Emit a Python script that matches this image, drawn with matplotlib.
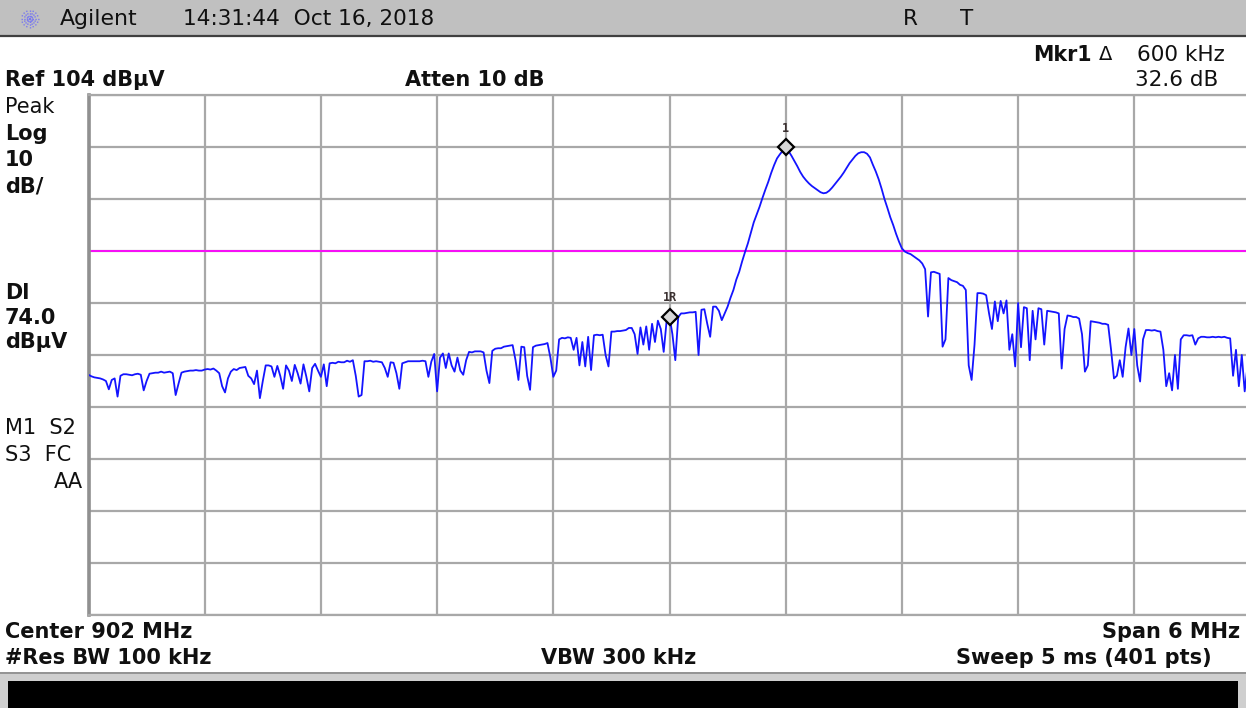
import numpy as np
import matplotlib
matplotlib.use('Agg')
import matplotlib.pyplot as plt
from matplotlib.patches import Rectangle

# ---------------- data ----------------
center_mhz = 902.0
span_mhz = 6.0
n_points = 401
ref_level = 104.0
db_per_div = 10.0
display_line = 74.0
atten_db = 10
rbw_khz = 100
vbw_khz = 300
sweep_ms = 5

trace_dbuv = [
    50.2, 49.9, 49.7, 49.6, 49.5, 49.3, 49.0, 47.4, 49.2, 49.5,
    46.0, 50.0, 50.3, 50.3, 50.2, 50.1, 50.3, 50.4, 50.2, 47.2,
    49.0, 50.4, 50.5, 50.6, 50.6, 50.8, 50.6, 50.7, 50.8, 50.5,
    46.3, 48.5, 50.6, 50.8, 50.9, 51.0, 51.0, 51.1, 51.0, 51.0,
    51.2, 51.3, 51.2, 51.4, 51.0, 50.5, 48.0, 46.8, 49.5, 50.8,
    51.3, 51.1, 51.5, 51.6, 51.7, 50.0, 49.5, 48.4, 51.0, 45.7,
    49.0, 52.0, 52.0, 51.8, 49.8, 51.9, 50.0, 47.5, 52.0, 51.0,
    49.0, 52.1, 50.5, 48.5, 52.2, 49.8, 47.0, 51.5, 52.3, 51.0,
    49.8, 52.2, 48.0, 52.4, 52.5, 52.4, 52.7, 52.6, 52.6, 52.9,
    52.7, 53.0, 50.0, 46.0, 46.3, 52.8, 52.8, 52.9, 52.7, 52.8,
    52.7, 52.6, 51.5, 49.8, 52.6, 52.5, 50.5, 47.5, 52.4, 52.6,
    52.8, 52.8, 52.8, 52.8, 52.8, 52.9, 52.8, 49.8, 52.7, 54.2,
    47.0, 53.5, 54.3, 51.5, 54.3, 52.0, 50.8, 53.5, 51.0, 50.2,
    53.0, 54.6, 54.5, 54.7, 54.7, 54.7, 54.5, 51.0, 48.6, 54.8,
    55.2, 55.3, 55.3, 55.6, 55.7, 55.8, 55.9, 53.0, 49.2, 55.6,
    55.5, 50.0, 47.3, 55.5, 55.8, 55.9, 56.0, 56.1, 56.3, 53.5,
    49.8, 51.0, 57.0, 57.3, 57.2, 57.4, 57.3, 55.0, 57.3, 52.0,
    56.5, 51.8, 57.5, 51.1, 57.8, 57.9, 57.8, 57.9, 54.0, 51.8,
    58.5, 58.5, 58.6, 58.6, 58.7, 58.8, 59.2, 59.2, 58.0, 54.2,
    59.3, 56.0, 59.5, 55.0, 60.0, 56.5, 60.6, 59.0, 54.6, 60.5,
    61.4, 58.0, 53.0, 61.3, 62.0, 62.0, 62.1, 62.2, 62.2, 62.3,
    54.0, 62.7, 62.8, 60.0, 57.5, 63.3, 63.3, 62.5, 60.7, 62.0,
    63.3, 65.0, 66.5, 68.5, 70.0, 72.0, 73.8, 75.5, 77.5, 79.5,
    81.0, 82.5, 84.2, 85.8, 87.3, 89.0, 90.5, 91.8, 92.6, 93.3,
    94.0, 93.2, 92.3, 91.3, 90.3, 89.2, 88.3, 87.6, 87.0, 86.5,
    86.1, 85.7, 85.3, 85.1, 85.2, 85.6, 86.2, 86.9, 87.6, 88.3,
    89.1, 90.0, 90.9, 91.6, 92.3, 92.8, 93.0, 93.0, 92.7, 92.0,
    90.6, 89.3, 87.8, 86.0, 84.0, 82.3, 80.5, 79.0, 77.3, 75.8,
    74.5, 73.9, 73.6, 73.4, 73.0, 72.6, 72.2, 71.6, 70.5, 61.4,
    69.9, 70.0, 69.8, 69.6, 55.6, 57.0, 68.8, 68.4, 68.2, 68.0,
    67.5, 67.3, 66.5, 52.0, 49.2, 56.0, 65.9, 65.9, 65.8, 65.5,
    62.0, 59.0, 64.3, 60.5, 64.4, 62.0, 64.5, 55.0, 58.0, 51.8,
    64.0, 55.5, 63.2, 63.0, 53.0, 62.5, 57.0, 63.0, 62.8, 56.0,
    62.5, 62.4, 62.3, 62.2, 62.0, 51.4, 59.0, 61.6, 61.5, 61.3,
    61.3, 61.0, 58.0, 50.8, 52.0, 60.5, 60.4, 60.3, 60.2, 60.0,
    60.0, 59.8, 55.0, 49.5, 50.0, 53.0, 49.8, 55.5, 59.1, 54.0,
    59.0, 52.0, 48.9, 57.0, 58.8, 58.8, 58.7, 58.8, 58.6, 58.5,
    55.0, 48.0, 50.5, 47.2, 54.0, 47.5, 57.0, 57.8, 57.8, 57.7,
    57.8, 56.0, 57.2, 57.5, 57.5, 57.4, 57.4, 57.5, 57.4, 57.5,
    57.4, 57.5, 57.3, 57.2, 50.0, 55.0, 48.0, 54.0, 47.0, 52.0,
    55.0,
]
marker_idx = 240       # Mkr1
ref_marker_idx = 200   # 1R

# ---------------- figure ----------------
W, H = 1246, 708
fig = plt.figure(figsize=(W / 100, H / 100), dpi=100)
fig.patch.set_facecolor('white')

bg = fig.add_axes([0, 0, 1, 1], zorder=0)
bg.set_xlim(0, W)
bg.set_ylim(H, 0)
bg.axis('off')

# header bar
bg.add_patch(Rectangle((0, 0), W, 35, facecolor='#c0c0c0', edgecolor='none'))
bg.plot([0, W], [35.5, 35.5], color='#404040', lw=1.6)
# Agilent star icon
for ang in np.arange(0, 180, 22.5):
    r = 9
    dx, dy = r * np.cos(np.radians(ang)), r * np.sin(np.radians(ang))
    bg.plot([30 - dx, 30 + dx], [19 - dy, 19 + dy], color='#7878f0', lw=1.0,
            linestyle=(0, (1, 1)))

# bottom bar
bg.add_patch(Rectangle((0, 672), W, 36, facecolor='#cfcfcf', edgecolor='none'))
bg.plot([0, W], [673, 673], color='#8a8a8a', lw=1.2)
bg.add_patch(Rectangle((8, 681), 1230, 27, facecolor='black', edgecolor='none'))

def t(x, y, s, bold=False, ha='left', size=15, color='#101010'):
    bg.text(x, y, s, ha=ha, va='center', fontsize=size,
            fontweight='bold' if bold else 'normal', color=color,
            family='DejaVu Sans')

t(60, 19, 'Agilent', size=15.8)
t(183, 19, '14:31:44  Oct 16, 2018', size=15.6)
t(910, 19, 'R', ha='center', size=15.5)
t(967, 19, 'T', ha='center', size=15.5)

mkr_delta_khz = (marker_idx - ref_marker_idx) * span_mhz / (n_points - 1) * 1000
mkr_delta_db = trace_dbuv[marker_idx] - trace_dbuv[ref_marker_idx]
t(1092, 55, 'Mkr1', bold=True, ha='right', size=14.8)
t(1106, 55, '\u0394', ha='center', size=14)
t(1225, 55, f'{mkr_delta_khz:.0f} kHz', ha='right', size=15.5)
t(1218, 80, f'{mkr_delta_db:.1f} dB', ha='right', size=15.5)

t(5, 80, f'Ref {ref_level:.0f} dB\u00b5V', bold=True, size=15)
t(405, 80, f'Atten {atten_db} dB', bold=True, size=15)

t(5, 107, 'Peak', size=15)
t(5, 134, 'Log', bold=True, size=15)
t(5, 160, f'{db_per_div:.0f}', bold=True, size=15)
t(5, 186, 'dB/', bold=True, size=15)
t(5, 293, 'Dl', bold=True, size=15)
t(5, 318, f'{display_line:.1f}', bold=True, size=15)
t(5, 342, 'dB\u00b5V', bold=True, size=15)
t(5, 428, 'M1  S2', size=15)
t(5, 455, 'S3  FC', size=15)
t(83, 482, 'AA', ha='right', size=15)

t(5, 632, f'Center {center_mhz:.0f} MHz', bold=True, size=15)
t(1240, 632, f'Span {span_mhz:.0f} MHz', bold=True, ha='right', size=15)
t(5, 658, f'#Res BW {rbw_khz} kHz', bold=True, size=15)
t(541, 658, f'VBW {vbw_khz} kHz', bold=True, size=15)
t(1212, 658, f'Sweep {sweep_ms} ms ({n_points} pts)', bold=True, ha='right', size=15)

# ---------------- plot area ----------------
ax = fig.add_axes([88.5 / W, (H - 615) / H, 1162 / W, 520 / H], zorder=1)
ax.set_facecolor('white')
f_start = center_mhz - span_mhz / 2
f_stop = center_mhz + span_mhz / 2
y_bottom = ref_level - 10 * db_per_div
freqs = np.linspace(f_start, f_stop, n_points)
trace = np.array(trace_dbuv)

ax.set_xlim(f_start, f_stop)
ax.set_ylim(y_bottom, ref_level)
ax.set_xticks(np.linspace(f_start, f_stop, 11))
ax.set_yticks(np.linspace(y_bottom, ref_level, 11))
ax.tick_params(length=0, labelbottom=False, labelleft=False)
ax.grid(True, color='#a8a8a8', lw=1.6)
ax.set_axisbelow(True)
for side, sp in ax.spines.items():
    sp.set_color('#a8a8a8')
    sp.set_linewidth(1.6)
ax.spines['left'].set_linewidth(2.6)
ax.spines['left'].set_color('#909090')

ax.axhline(display_line, color='#ff00ff', lw=1.3, zorder=2)
ax.plot(freqs, trace, color='#1414ff', lw=1.3, zorder=3)

for idx, lab in [(marker_idx, '1'), (ref_marker_idx, '1R')]:
    ax.plot(freqs[idx], trace[idx], marker='D', markersize=8.5,
            markerfacecolor='#d8d8d8', markeredgecolor='black',
            markeredgewidth=1.6, zorder=5)
    ax.annotate(lab, (freqs[idx], trace[idx]), xytext=(0, 9),
                textcoords='offset points', ha='center', va='bottom',
                fontsize=8.5, color='#3a3030', family='DejaVu Sans Mono',
                fontweight='bold')

fig.savefig('out.png', dpi=100)
